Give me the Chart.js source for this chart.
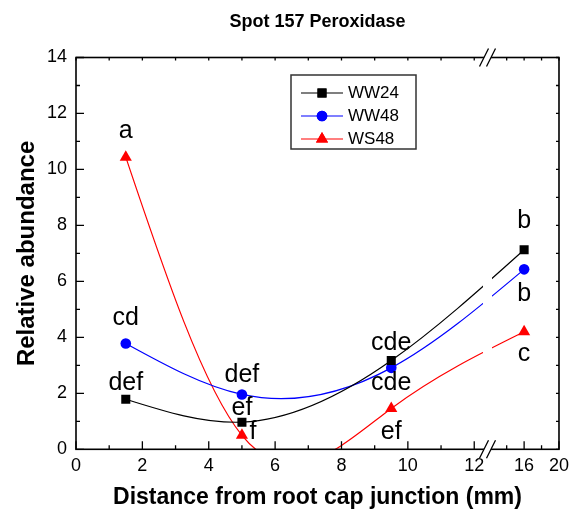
<!DOCTYPE html>
<html><head><meta charset="utf-8">
<script src="https://cdn.jsdelivr.net/npm/chart.js@4.4.1/dist/chart.umd.min.js"></script>
<style>html,body{margin:0;padding:0;background:#fff}#wrap{width:575px;height:518px;position:relative}</style>
</head><body><div id="wrap"><canvas id="c"></canvas></div>
<script>
// ---------- data ----------
const chartTitle = 'Spot 157 Peroxidase';
const xTitle = 'Distance from root cap junction (mm)';
const yTitle = 'Relative abundance';
const seriesNames = ['WW24', 'WW48', 'WS48'];
const xValues = [1.5, 5, 9.5, 16];
const ww24 = [1.79, 0.97, 3.17, 7.13];
const ww48 = [3.78, 1.96, 2.91, 6.43];
const ws48 = [10.44, 0.5, 1.46, 4.2];
const ww24Letters = ['def', 'ef', 'cde', 'b'];
const ww48Letters = ['cd', 'def', 'cde', 'b'];
const ws48Letters = ['a', 'f', 'ef', 'c'];
const xTicks = [0, 2, 4, 6, 8, 10, 12, 16, 20];
const xMinorTicks = [1, 3, 5, 7, 9, 11, 14, 18];
const yTicks = [0, 2, 4, 6, 8, 10, 12, 14];
const yMinorTicks = [1, 3, 5, 7, 9, 11, 13];
// broken x axis: left part 0..12.4, right part 11.8..20
const breakLeftEnd = 12.4;
const breakRightStart = 11.8;

// ---------- styles ----------
const FONT = '"Liberation Sans", Arial, sans-serif';
const SPLIT = 0.852;
const colors = ['#000000', '#0000ff', '#ff0000'];
const pointStyles = ['rect', 'circle', 'triangle'];
const pointRadii = [6.4, 5.3, 7];
// letter label offsets (px) relative to each point
const letterOffsets = [
  [[0, -16], [0, -14], [0, -17], [0, -29]],
  [[0, -25], [0, -19], [0, 15], [0, 25]],
  [[0, -26], [11, -3], [0, 24], [0, 22]]
];

class BrokenLinearScale extends Chart.LinearScale {
  static id = 'brokenLinear';
  static defaults = {};
  buildTicks() { return xTicks.map(v => ({ value: v })); }
  getPixelForValue(value) {
    let dec;
    if (value <= breakLeftEnd) dec = (value - this.min) / (breakLeftEnd - this.min) * SPLIT;
    else dec = SPLIT + (value - breakRightStart) / (this.max - breakRightStart) * (1 - SPLIT);
    return this.left + dec * this.width;
  }
  getValueForPixel(pixel) {
    const dec = (pixel - this.left) / this.width;
    if (dec <= SPLIT) return this.min + dec / SPLIT * (breakLeftEnd - this.min);
    return breakRightStart + (dec - SPLIT) / (1 - SPLIT) * (this.max - breakRightStart);
  }
}
Chart.register(BrokenLinearScale);

function toXY(ys) { return xValues.map((x, i) => ({ x: x, y: ys[i] })); }
const allSeries = [ww24, ww48, ws48];
const allLetters = [ww24Letters, ww48Letters, ws48Letters];

function naturalSpline(pts) {
  const n = pts.length;
  const xs = pts.map(p => p.x), ys = pts.map(p => p.y);
  const h = [];
  for (let i = 0; i < n - 1; i++) h.push(xs[i + 1] - xs[i]);
  const M = new Array(n).fill(0);
  const m = n - 2;
  if (m > 0) {
    const a = [], b = [], c = [], d = [];
    for (let i = 1; i < n - 1; i++) {
      a.push(h[i - 1]); b.push(2 * (h[i - 1] + h[i])); c.push(h[i]);
      d.push(6 * ((ys[i + 1] - ys[i]) / h[i] - (ys[i] - ys[i - 1]) / h[i - 1]));
    }
    for (let i = 1; i < m; i++) { const w = a[i] / b[i - 1]; b[i] -= w * c[i - 1]; d[i] -= w * d[i - 1]; }
    const sol = new Array(m);
    sol[m - 1] = d[m - 1] / b[m - 1];
    for (let i = m - 2; i >= 0; i--) sol[i] = (d[i] - c[i] * sol[i + 1]) / b[i];
    for (let i = 0; i < m; i++) M[i + 1] = sol[i];
  }
  for (let i = 0; i < n - 1; i++) {
    const s = (ys[i + 1] - ys[i]) / h[i];
    const d0 = s - h[i] * (2 * M[i] + M[i + 1]) / 6;
    const d1 = s + h[i] * (M[i] + 2 * M[i + 1]) / 6;
    pts[i].cp2x = xs[i] + h[i] / 3; pts[i].cp2y = ys[i] + d0 * h[i] / 3;
    pts[i + 1].cp1x = xs[i + 1] - h[i] / 3; pts[i + 1].cp1y = ys[i + 1] - d1 * h[i] / 3;
  }
}

const splinePlugin = {
  id: 'spline',
  beforeDatasetsDraw(chart) {
    chart.data.datasets.forEach((ds, i) => {
      const meta = chart.getDatasetMeta(i);
      naturalSpline(meta.data);
      meta.dataset._pointsUpdated = true;
    });
  }
};

function text(ctx, str, x, y, font, align, baseline) {
  ctx.font = font; ctx.textAlign = align || 'center'; ctx.textBaseline = baseline || 'middle';
  ctx.fillStyle = '#000'; ctx.fillText(str, x, y);
}

const decorPlugin = {
  id: 'decor',
  afterDatasetsDraw(chart) {
    const ctx = chart.ctx, a = chart.chartArea;
    const xs = chart.scales.x, ys = chart.scales.y;
    const bx = xs.getPixelForValue(breakLeftEnd);
    ctx.save();
    // gap of curves at axis break
    ctx.fillStyle = '#fff';
    ctx.fillRect(bx - 4.5, a.top + 1, 9, a.bottom - a.top - 2);
    // frame
    ctx.strokeStyle = '#000'; ctx.lineWidth = 1.6;
    ctx.strokeRect(a.left, a.top, a.right - a.left, a.bottom - a.top);
    // ticks
    ctx.lineWidth = 1.3;
    ctx.beginPath();
    xTicks.forEach(v => { const p = xs.getPixelForValue(v); ctx.moveTo(p, a.bottom); ctx.lineTo(p, a.bottom - 8); ctx.moveTo(p, a.top); ctx.lineTo(p, a.top + 3); });
    xMinorTicks.forEach(v => { const p = xs.getPixelForValue(v); ctx.moveTo(p, a.bottom); ctx.lineTo(p, a.bottom - 4); ctx.moveTo(p, a.top); ctx.lineTo(p, a.top + 3); });
    yTicks.forEach(v => { const p = ys.getPixelForValue(v); ctx.moveTo(a.left, p); ctx.lineTo(a.left + 8, p); ctx.moveTo(a.right, p); ctx.lineTo(a.right - 3, p); });
    yMinorTicks.forEach(v => { const p = ys.getPixelForValue(v); ctx.moveTo(a.left, p); ctx.lineTo(a.left + 4, p); ctx.moveTo(a.right, p); ctx.lineTo(a.right - 3, p); });
    ctx.stroke();
    // break marks
    [a.top, a.bottom].forEach(yy => {
      ctx.fillStyle = '#fff';
      ctx.beginPath();
      ctx.moveTo(bx - 8, yy + 9); ctx.lineTo(bx + 1, yy - 9); ctx.lineTo(bx + 8, yy - 9); ctx.lineTo(bx - 1, yy + 9); ctx.closePath();
      ctx.fill();
      ctx.strokeStyle = '#000'; ctx.lineWidth = 1.3;
      ctx.beginPath();
      ctx.moveTo(bx - 8, yy + 9); ctx.lineTo(bx + 1, yy - 9);
      ctx.moveTo(bx - 1, yy + 9); ctx.lineTo(bx + 8, yy - 9);
      ctx.stroke();
    });
    // letters
    allLetters.forEach((letters, si) => {
      letters.forEach((L, i) => {
        const px = xs.getPixelForValue(xValues[i]) + letterOffsets[si][i][0];
        const py = ys.getPixelForValue(allSeries[si][i]) + letterOffsets[si][i][1];
        text(ctx, L, px, py, '25px ' + FONT);
      });
    });
    // title
    text(ctx, chartTitle, (a.left + a.right) / 2, 22, 'bold 18px ' + FONT);
    // legend
    const lx = 291, ly = 75, lw = 125, lh = 74;
    ctx.fillStyle = '#fff'; ctx.fillRect(lx, ly, lw, lh);
    ctx.strokeStyle = '#333'; ctx.lineWidth = 1.5; ctx.strokeRect(lx, ly, lw, lh);
    seriesNames.forEach((name, i) => {
      const yy = ly + 18 + i * 23;
      ctx.strokeStyle = colors[i]; ctx.lineWidth = 1.2;
      ctx.beginPath(); ctx.moveTo(lx + 10, yy); ctx.lineTo(lx + 52, yy); ctx.stroke();
      ctx.fillStyle = colors[i];
      Chart.helpers.drawPoint(ctx, { pointStyle: pointStyles[i], radius: pointRadii[i], rotation: 0, borderWidth: 0 }, lx + 31, yy);
      ctx.fill();
      text(ctx, name, lx + 57, yy, '17px ' + FONT, 'left');
    });
    ctx.restore();
  }
};

const datasets = allSeries.map((ys, i) => ({
  label: seriesNames[i],
  data: toXY(ys),
  borderColor: colors[i],
  backgroundColor: colors[i],
  borderWidth: 1.2,
  pointStyle: pointStyles[i],
  pointRadius: pointRadii[i],
  pointBorderWidth: 0,
  tension: 0.4,
  capBezierPoints: false,
  fill: false
}));

new Chart(document.getElementById('c'), {
  type: 'line',
  data: { datasets },
  options: {
    responsive: true,
    maintainAspectRatio: false,
    animation: false,
    devicePixelRatio: 1,
    layout: { padding: { left: 0, top: 57.5, right: 12.5, bottom: 0 } },
    plugins: { legend: { display: false }, tooltip: { enabled: false }, title: { display: false } },
    elements: { line: { capBezierPoints: false } },
    scales: {
      x: {
        type: 'brokenLinear', position: 'bottom', min: 0, max: 20,
        grid: { display: false, drawTicks: false },
        border: { display: false },
        ticks: { autoSkip: false, maxRotation: 0, color: '#000', padding: 6, font: { family: FONT, size: 18 } },
        title: { display: true, text: xTitle, color: '#000', font: { family: FONT, size: 23, weight: 'bold' }, padding: { top: 0, bottom: 7 } },
        afterFit(s) { s.height = 518 - 449.3; }
      },
      y: {
        type: 'linear', position: 'left', min: 0, max: 14,
        afterBuildTicks(s) { s.ticks = yTicks.map(v => ({ value: v })); },
        grid: { display: false, drawTicks: false },
        border: { display: false },
        ticks: { color: '#000', padding: 9, font: { family: FONT, size: 18 } },
        title: { display: true, text: yTitle, color: '#000', font: { family: FONT, size: 24, weight: 'bold' }, padding: { top: 13, bottom: 0 } },
        afterFit(s) { s.width = 76; }
      }
    }
  },
  plugins: [splinePlugin, decorPlugin]
});
</script></body></html>
